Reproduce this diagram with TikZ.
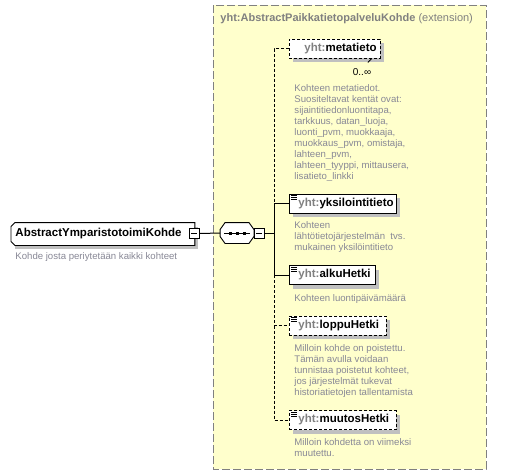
\documentclass[tikz,border=0pt]{standalone}
\usepackage{fontspec}
\setmainfont{Liberation Sans}
\usetikzlibrary{shadows}

\definecolor{extyellow}{RGB}{255,255,204}
\definecolor{prefixgray}{RGB}{128,128,128}
\definecolor{docgray}{RGB}{136,136,150}
\definecolor{shadowgray}{RGB}{192,192,192}

\newcommand{\yht}[1]{\mbox{\textbf{\textcolor{prefixgray}{yht:}#1}}}

\tikzset{
  elem/.style={draw, fill=white, anchor=west, minimum height=19pt,
    inner xsep=3pt, inner ysep=2pt, text width=#1, align=left,
    font=\fontsize{11.5}{13}\selectfont,
    execute at begin node=\hspace*{6pt},
    drop shadow={shadow xshift=4pt, shadow yshift=-4pt, fill=shadowgray, opacity=1}},
  optelem/.style={elem=#1, dash pattern=on 3pt off 2pt},
  doc/.style={anchor=north west, inner sep=0pt, align=left, text=docgray,
    font=\fontsize{9.6}{11}\selectfont},
  minusbox/.style={draw, fill=white, minimum size=10pt, inner sep=0pt,
    path picture={\draw ([xshift=2pt]path picture bounding box.west) --
      ([xshift=-2pt]path picture bounding box.east);}},
  reqline/.style={draw, line width=1pt},
  optline/.style={draw, dash pattern=on 3pt off 2pt},
  extbox/.style={draw=prefixgray, fill=extyellow, dash pattern=on 8pt off 3pt}
}

\begin{document}
\begin{tikzpicture}[x=1pt,y=-1pt,line width=0.9pt]
\useasboundingbox [fill=white] (0,0) rectangle (508,475);

% extension
\draw [extbox] (213,5) rectangle (486,469);
\node [anchor=west, inner sep=0pt, text=prefixgray, font=\fontsize{11}{13}\selectfont]
  (extTitle) at (220,19) {\textbf{yht:AbstractPaikkatietopalveluKohde} (extension)};

% main element
\node [fill=white, anchor=west, minimum width=183pt, minimum height=22pt,
  inner xsep=4pt, text width=175pt, align=left,
  font=\bfseries\fontsize{11.5}{13}\selectfont,
  drop shadow={shadow xshift=4pt, shadow yshift=-4pt, fill=shadowgray, opacity=1}]
  (kohde) at (11,234) {AbstractYmparistotoimiKohde};
\draw ([xshift=4pt]kohde.north west) -- (kohde.north east) -- (kohde.south east)
  -- ([xshift=4pt]kohde.south west) -- ([yshift=4pt]kohde.south west)
  -- ([yshift=-4pt]kohde.north west) -- cycle;
\node [minusbox] (kohdeMinus) at (194,233.5) {};
\node [doc] (kohdeDoc) at (15,252.5) {Kohde josta periytetään kaikki kohteet};

% sequence
\node [minimum width=33pt, minimum height=20pt, inner sep=0pt] (seq) at (237,233) {};
\fill [shadowgray, shift={(4,4)}] ([xshift=5pt]seq.north west) -- ([xshift=-5pt]seq.north east)
  -- ([yshift=-7pt]seq.north east) -- ([yshift=7pt]seq.south east)
  -- ([xshift=-5pt]seq.south east) -- ([xshift=5pt]seq.south west)
  -- ([yshift=7pt]seq.south west) -- ([yshift=-7pt]seq.north west) -- cycle;
\draw [fill=white] ([xshift=5pt]seq.north west) -- ([xshift=-5pt]seq.north east)
  -- ([yshift=-7pt]seq.north east) -- ([yshift=7pt]seq.south east)
  -- ([xshift=-5pt]seq.south east) -- ([xshift=5pt]seq.south west)
  -- ([yshift=7pt]seq.south west) -- ([yshift=-7pt]seq.north west) -- cycle;
\draw [line width=1pt] ([xshift=4pt]seq.west) -- ([xshift=-4pt]seq.east);
\foreach \dx in {-7,0,7}
  \fill ([xshift=\dx pt]seq.center) +(-1.5,-1.5) rectangle +(1.5,1.5);
\node [minusbox] (seqMinus) at (259,233) {};
\coordinate (trunk) at (274,233);

% children
\node [optelem=85pt, execute at begin node=] (meta) at (289,48.5) {\hspace*{6pt}\yht{metatieto}};
\node [elem=101pt] (ident) at (289,203.5) {\yht{yksilointitieto}};
\node [elem=80pt] (start) at (289,275) {\yht{alkuHetki}};
\node [optelem=91pt] (end) at (289,325.5) {\yht{loppuHetki}};
\node [optelem=101pt] (mod) at (289,420) {\yht{muutosHetki}};

\foreach \n in {ident,start,end,mod}
  \foreach \dy in {2,4,6}
    \draw [line width=0.8pt] ([shift={(2,\dy)}]\n.north west) -- ++(6,0);

\node [inner sep=0pt, font=\fontsize{10}{12}\selectfont] (metaMult) at (362,72) {0..∞};
\draw ([xshift=-9pt]meta.south east) -- ++(-4,4);

% annotations
\node [doc] (metaDoc) at (294,84.5) {Kohteen metatiedot.\\Suositeltavat kentät ovat:\\
  sijaintitiedonluontitapa,\\tarkkuus, datan\_luoja,\\luonti\_pvm, muokkaaja,\\
  muokkaus\_pvm, omistaja,\\lahteen\_pvm,\\lahteen\_tyyppi, mittausera,\\lisatieto\_linkki};
\node [doc] (identDoc) at (294,221.5) {Kohteen\\lähtötietojärjestelmän \ tvs.\\mukainen yksilöintitieto};
\node [doc] (startDoc) at (294,294.5) {Kohteen luontipäivämäärä};
\node [doc] (endDoc) at (294,344.5) {Milloin kohde on poistettu.\\Tämän avulla voidaan\\
  tunnistaa poistetut kohteet,\\jos järjestelmät tukevat\\historiatietojen tallentamista};
\node [doc] (modDoc) at (294,438.5) {Milloin kohdetta on viimeksi\\muutettu.};

% connectors
\draw [reqline] (kohdeMinus.east) -- (seq.west);
\draw [reqline] (seqMinus.east) -- (trunk);
\draw [optline] (meta.west) -| (trunk |- ident.west);
\draw [reqline] (ident.west) -- (trunk |- ident.west) -- (trunk |- start.west) -- (start.west);
\draw [optline] (trunk |- start.west) |- (end.west);
\draw [optline] (trunk |- end.west) |- (mod.west);
\end{tikzpicture}
\end{document}
